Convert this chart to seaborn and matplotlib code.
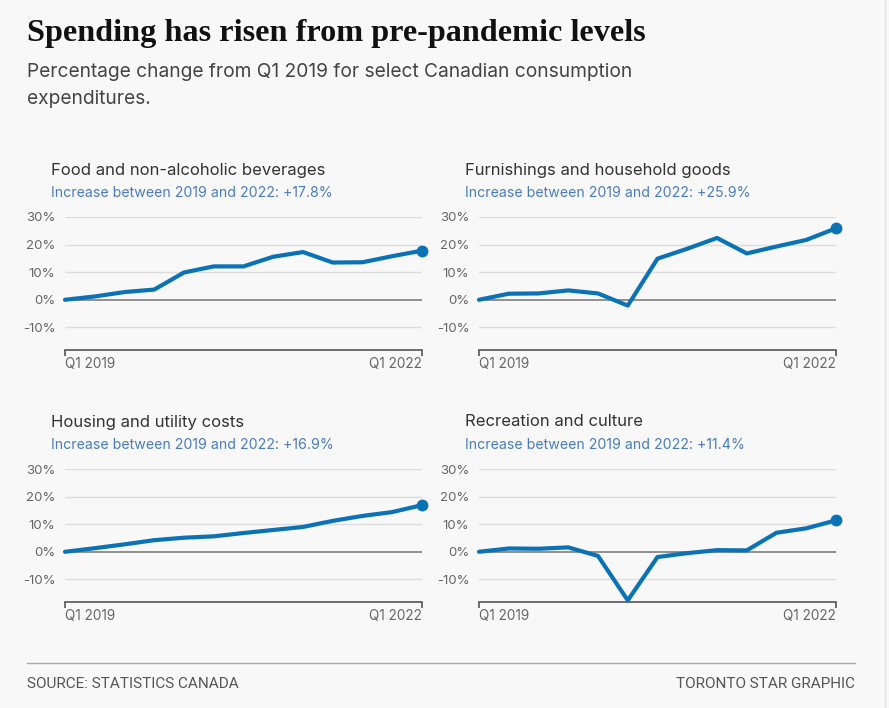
import matplotlib
matplotlib.use("Agg")
import matplotlib.pyplot as plt
import seaborn as sns
import pandas as pd
from matplotlib.lines import Line2D

# Quarterly percentage change from Q1 2019 (Q1 2019 .. Q1 2022)
quarters = list(range(13))
food = [0, 1.2, 2.8, 3.7, 9.9, 12.1, 12.1, 15.6, 17.3, 13.5, 13.6, 15.8, 17.8]
furnishings = [0, 2.2, 2.3, 3.4, 2.3, -2.1, 14.9, 18.5, 22.4, 16.8, 19.3, 21.7, 25.9]
housing = [0, 1.3, 2.7, 4.2, 5.1, 5.6, 6.8, 7.9, 9.0, 11.2, 13.0, 14.4, 16.9]
recreation = [0, 1.2, 1.1, 1.6, -1.5, -17.6, -1.9, -0.5, 0.6, 0.5, 6.9, 8.5, 11.4]

panel_titles = ["Food and non-alcoholic beverages", "Furnishings and household goods",
                "Housing and utility costs", "Recreation and culture"]
panel_notes = ["Increase between 2019 and 2022: +17.8%",
               "Increase between 2019 and 2022: +25.9%",
               "Increase between 2019 and 2022: +16.9%",
               "Increase between 2019 and 2022: +11.4%"]
y_ticks = [-10, 0, 10, 20, 30]
y_labels = ["-10%", "0%", "10%", "20%", "30%"]
x_labels = ["Q1 2019", "Q1 2022"]

BG = "#f8f8f8"
BLUE = "#0b72b5"
W, H = 889, 708

sns.set_theme(style="white")
plt.rcParams["font.family"] = ["Inter", "DejaVu Sans"]

fig = plt.figure(figsize=(W / 100, H / 100), dpi=100, facecolor=BG)

def px_axes(left, top, right, bottom):
    return fig.add_axes([left / W, 1 - bottom / H, (right - left) / W, (bottom - top) / H])

# pixel boxes for the four panels (left, top at 30%, right, bottom spine)
boxes = [(65, 217, 422, 350), (479, 217, 836, 350),
         (65, 469, 422, 602), (479, 469, 836, 602)]
series = [food, furnishings, housing, recreation]

for (l, t, r, b), vals, title, note in zip(boxes, series, panel_titles, panel_notes):
    ax = px_axes(l, t, r, b)
    ax.set_facecolor(BG)
    df = pd.DataFrame({"q": quarters, "v": vals})
    ax.set_ylim(-18.2, 30)
    ax.set_xlim(0, 12)
    for yv in y_ticks:
        ax.axhline(yv, color="#888888" if yv == 0 else "#dddddd",
                   lw=1.3 if yv == 0 else 1.0, zorder=1)
    sns.lineplot(data=df, x="q", y="v", ax=ax, color=BLUE, lw=3.0,
                 zorder=3, clip_on=False)
    ax.plot(quarters[-1], vals[-1], "o", color=BLUE, ms=7.5, zorder=4, clip_on=False)

    ax.set_yticks(y_ticks)
    ax.set_yticklabels(y_labels)
    ax.set_xticks([0, 12])
    ax.set_xticklabels(x_labels)
    for lbl, ha in zip(ax.get_xticklabels(), ["left", "right"]):
        lbl.set_ha(ha)
    ax.tick_params(axis="y", left=False, length=0, pad=7, labelsize=9.5,
                   labelcolor="#666666")
    ax.tick_params(axis="x", bottom=True, length=4, width=1.2, color="#555555",
                   pad=1, labelsize=9.8, labelcolor="#666666", direction="out")
    ax.set_xlabel("")
    ax.set_ylabel("")
    for s in ["top", "right", "left"]:
        ax.spines[s].set_visible(False)
    ax.spines["bottom"].set_color("#555555")
    ax.spines["bottom"].set_linewidth(1.2)

    fig.text((l - 14) / W, 1 - (t - 47) / H, title, fontsize=12, color="#333333",
             ha="left", va="center")
    fig.text((l - 14) / W, 1 - (t - 24) / H, note, fontsize=10.2, color="#4a7cc0",
             ha="left", va="center")

# heading
fig.text(27 / W, 1 - 33 / H, "Spending has risen from pre-pandemic levels",
         fontsize=23.2, fontweight="bold", color="#111111", ha="left", va="center",
         family=["Liberation Serif", "DejaVu Serif"])
fig.text(27 / W, 1 - 72 / H, "Percentage change from Q1 2019 for select Canadian consumption",
         fontsize=13.8, color="#444444", ha="left", va="center")
fig.text(27 / W, 1 - 99 / H, "expenditures.",
         fontsize=13.8, color="#444444", ha="left", va="center")

# footer
fig.add_artist(Line2D([27 / W, 855 / W], [1 - 663 / H, 1 - 663 / H],
                      color="#aaaaaa", lw=1.0))
fig.text(27 / W, 1 - 684 / H, "SOURCE: STATISTICS CANADA", fontsize=11,
         color="#555555", ha="left", va="center", family=["Roboto", "DejaVu Sans"])
fig.text(855 / W, 1 - 684 / H, "TORONTO STAR GRAPHIC", fontsize=11,
         color="#555555", ha="right", va="center", family=["Roboto", "DejaVu Sans"])
fig.add_artist(Line2D([885 / W, 885 / W], [0, 1], color="#e2e2e2", lw=1.0))

fig.savefig("out.png", dpi=100, facecolor=BG)
